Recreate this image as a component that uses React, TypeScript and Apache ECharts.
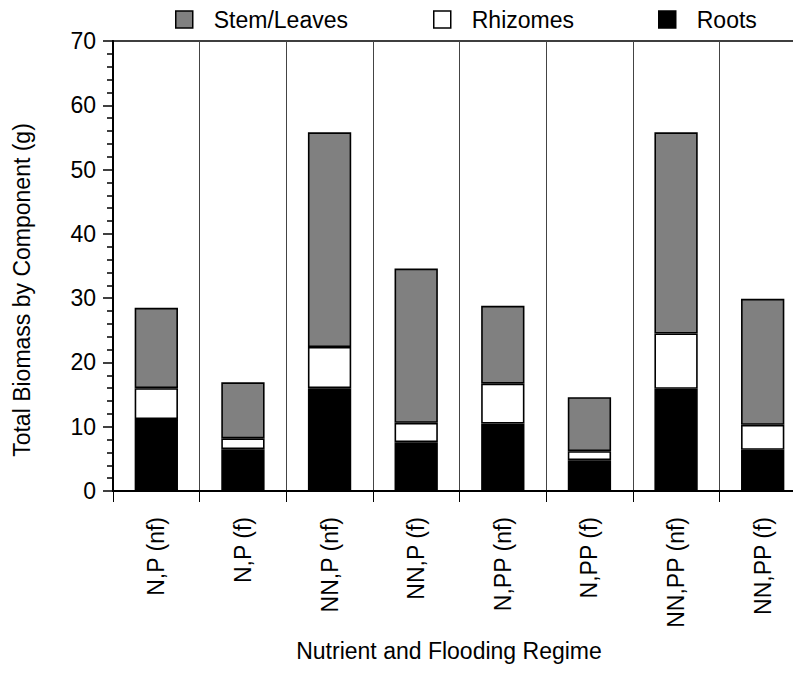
import React, { useEffect, useRef } from "react";
import * as echarts from "echarts";

// Treatment groups (nutrient level, phosphorus level, flooding)
const categories = [
  "N,P (nf)",
  "N,P (f)",
  "NN,P (nf)",
  "NN,P (f)",
  "N,PP (nf)",
  "N,PP (f)",
  "NN,PP (nf)",
  "NN,PP (f)",
];

// Biomass per plant component, grams
const roots = [11.2, 6.5, 16.0, 7.6, 10.5, 4.8, 15.9, 6.4];
const rhizomes = [4.8, 1.7, 6.4, 3.0, 6.2, 1.4, 8.6, 3.9];
const stemLeaves = [12.5, 8.7, 33.4, 24.0, 12.1, 8.4, 31.3, 19.6];

const yTicks = [0, 10, 20, 30, 40, 50, 60, 70];

const FONT = "'Liberation Sans', Arial, Helvetica, sans-serif";
const FS = 23;

export default function App() {
  const ref = useRef<HTMLDivElement>(null);

  useEffect(() => {
    if (!ref.current) return;
    const chart = echarts.init(ref.current, null, { renderer: "svg" });

    const barBorder = { borderColor: "#000", borderWidth: 1.6 };

    const legendBase = {
      top: 3,
      itemWidth: 17,
      itemHeight: 17,
      itemGap: 20,
      icon: "rect",
      textStyle: {
        fontSize: FS,
        color: "#000",
        fontFamily: FONT,
        padding: [0, 0, 0, 16],
      },
    };

    chart.setOption({
      animation: false,
      backgroundColor: "#fff",
      textStyle: { fontFamily: FONT },
      legend: [
        {
          ...legendBase,
          left: 170,
          data: ["Stem/Leaves"],
          itemStyle: { color: "#808080", borderColor: "#000", borderWidth: 1.5 },
        },
        {
          ...legendBase,
          left: 428,
          data: ["Rhizomes"],
          itemStyle: { color: "#fff", borderColor: "#000", borderWidth: 1.5 },
        },
        {
          ...legendBase,
          left: 653,
          data: ["Roots"],
          itemStyle: { color: "#000", borderColor: "#000", borderWidth: 1.5 },
        },
      ],
      grid: {
        left: 113,
        top: 41,
        width: 693,
        height: 450,
        show: true,
        borderColor: "#000",
        borderWidth: 1.5,
        backgroundColor: "transparent",
      },
      xAxis: {
        type: "category",
        data: categories,
        boundaryGap: true,
        axisLine: { show: true, lineStyle: { color: "#000", width: 2 } },
        axisTick: {
          show: true,
          alignWithLabel: false,
          interval: 0,
          length: 11,
          lineStyle: { color: "#000", width: 1 },
        },
        splitLine: {
          show: true,
          interval: 0,
          lineStyle: { color: "#444", width: 1 },
        },
        axisLabel: {
          rotate: 90,
          interval: 0,
          margin: 26,
          fontSize: FS,
          color: "#000",
          fontFamily: FONT,
        },
      },
      yAxis: {
        type: "value",
        min: yTicks[0],
        max: yTicks[yTicks.length - 1],
        interval: 10,
        axisLine: { show: true, lineStyle: { color: "#000", width: 2 } },
        axisTick: { show: true, length: 10, lineStyle: { color: "#000", width: 1.5 } },
        minorTick: { show: true, splitNumber: 5, length: 6, lineStyle: { color: "#000", width: 1.5 } },
        splitLine: { show: false },
        axisLabel: {
          margin: 17,
          fontSize: FS,
          color: "#000",
          fontFamily: FONT,
          formatter: (v: number) => (yTicks.includes(v) ? String(v) : ""),
        },
      },
      graphic: [
        {
          type: "text",
          x: 449,
          y: 651,
          style: {
            text: "Nutrient and Flooding Regime",
            align: "center",
            verticalAlign: "middle",
            fontSize: FS,
            fontFamily: FONT,
            fill: "#000",
          },
        },
        {
          type: "text",
          x: 22,
          y: 290,
          rotation: Math.PI / 2,
          style: {
            text: "Total Biomass by Component (g)",
            align: "center",
            verticalAlign: "middle",
            fontSize: FS,
            fontFamily: FONT,
            fill: "#000",
          },
        },
      ],
      series: [
        {
          name: "Roots",
          type: "bar",
          stack: "biomass",
          barWidth: "50%",
          data: roots,
          itemStyle: { color: "#000", ...barBorder },
        },
        {
          name: "Rhizomes",
          type: "bar",
          stack: "biomass",
          barWidth: "50%",
          data: rhizomes,
          itemStyle: { color: "#fff", ...barBorder },
        },
        {
          name: "Stem/Leaves",
          type: "bar",
          stack: "biomass",
          barWidth: "50%",
          data: stemLeaves,
          itemStyle: { color: "#808080", ...barBorder },
        },
      ],
    });

    return () => chart.dispose();
  }, []);

  // The plot frame runs past the right edge of the page, so the chart canvas is wider than the view.
  return (
    <div
      ref={ref}
      style={{ position: "fixed", left: 0, top: 0, width: 820, height: 681, background: "#fff" }}
    />
  );
}
